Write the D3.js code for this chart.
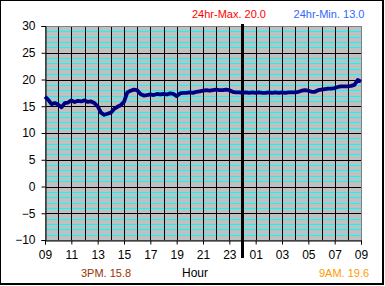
<!DOCTYPE html>
<html>
<head>
<meta charset="utf-8">
<script src="https://cdn.jsdelivr.net/npm/d3@7"></script>
<style>
  body { margin: 0; background: #fff; }
  text { font-family: "Liberation Sans", Arial, sans-serif; }
</style>
</head>
<body>
<div id="chart"></div>
<script>
const WIDTH = 385, HEIGHT = 286;
const P = { left: 45, right: 361, top: 26, bottom: 240 };

// readings every 15 minutes, starting 09:00
const startHour = 9, stepHours = 0.25;
const temps = [
  16.8, 16.2, 15.4, 15.6,  15.3, 14.8, 15.6, 15.7,  16.1, 15.8, 16.0, 15.9,
  16.1, 15.8, 15.9, 15.6,  15.0, 13.8, 13.4, 13.6,  13.8, 14.5, 14.9, 15.2,
  15.8, 17.6, 17.9, 18.1,  18.0, 17.3, 17.0, 17.1,  17.2, 17.1, 17.3, 17.2,
  17.3, 17.2, 17.4, 17.3,  16.9, 17.4, 17.5, 17.5,  17.6, 17.5, 17.7, 17.8,
  17.9, 18.0, 17.9, 18.0,  18.1, 18.0, 18.0, 18.1,  18.0, 17.7, 17.6, 17.6,
  17.5, 17.6, 17.5, 17.6,  17.5, 17.6, 17.5, 17.5,  17.6, 17.5, 17.6, 17.5,
  17.6, 17.5, 17.6, 17.6,  17.6, 17.7, 17.9, 18.0,  17.9, 17.7, 17.7, 18.0,
  18.1, 18.2, 18.3, 18.3,  18.4, 18.6, 18.7, 18.7,  18.7, 18.8, 19.0, 19.9,
  19.6
];
const yTicks = [-10, -5, 0, 5, 10, 15, 20, 25, 30];
const xTicks = [9, 11, 13, 15, 17, 19, 21, 23, 25, 27, 29, 31, 33];
const midnight = 24;
const topNotes = [
  { text: "24hr-Max. 20.0", x: 229, color: "#ff0000" },
  { text: "24hr-Min. 13.0", x: 329, color: "#3366ff" }
];
const bottomNotes = [
  { text: "3PM. 15.8", x: 106, color: "#993300" },
  { text: "9AM. 19.6", x: 344, color: "#ff9900" }
];

const svg = d3.select("#chart").append("svg")
  .attr("width", WIDTH).attr("height", HEIGHT);

// frame
svg.append("rect").attr("width", 384).attr("height", 285).attr("fill", "#000");
svg.append("rect").attr("x", 1).attr("y", 1).attr("width", 381).attr("height", 282).attr("fill", "#fff");

const x = d3.scaleLinear().domain([9, 33]).range([P.left, P.right]);
const y = d3.scaleLinear().domain([-10, 30]).range([P.bottom, P.top]);
const crisp = v => Math.round(v) + 0.5;

svg.append("rect")
  .attr("x", P.left).attr("y", P.top)
  .attr("width", P.right - P.left).attr("height", P.bottom - P.top)
  .attr("fill", "#c0c0c0");

// minor horizontal (cyan) and major (black)
const minorY = d3.range(-9, 30).filter(v => v % 5 !== 0);
svg.append("g").selectAll("line").data(minorY).join("line")
  .attr("x1", P.left).attr("x2", P.right)
  .attr("y1", d => crisp(y(d))).attr("y2", d => crisp(y(d)))
  .attr("stroke", "#00ffff").attr("stroke-width", 1);
svg.append("g").selectAll("line").data(yTicks.filter(v => v > -10 && v < 30)).join("line")
  .attr("x1", P.left).attr("x2", P.right)
  .attr("y1", d => crisp(y(d))).attr("y2", d => crisp(y(d)))
  .attr("stroke", "#000").attr("stroke-width", 1);
svg.append("g").selectAll("line").data(d3.range(10, 33)).join("line")
  .attr("x1", d => crisp(x(d))).attr("x2", d => crisp(x(d)))
  .attr("y1", P.top).attr("y2", P.bottom)
  .attr("stroke", "#000").attr("stroke-width", 1);

// plot border
svg.append("rect")
  .attr("x", P.left + 0.5).attr("y", P.top + 0.5)
  .attr("width", P.right - P.left).attr("height", P.bottom - P.top)
  .attr("fill", "none").attr("stroke", "#808080");

// axes
const yAxis = svg.append("g").attr("transform", `translate(${P.left + 0.5},0)`)
  .call(d3.axisLeft(y).tickValues(yTicks).tickSize(4).tickPadding(6));
const xAxis = svg.append("g").attr("transform", `translate(0,${P.bottom + 0.5})`)
  .call(d3.axisBottom(x).tickValues(xTicks).tickSize(4).tickPadding(6)
    .tickFormat(h => String(h % 24).padStart(2, "0")));
[yAxis, xAxis].forEach(a => {
  a.select(".domain").attr("stroke", "#000");
  a.selectAll(".tick line").attr("stroke", "#000");
  a.selectAll("text").attr("fill", "#000").attr("font-size", 12)
    .attr("font-family", "Liberation Sans, Arial, sans-serif");
});

// midnight marker
svg.append("line")
  .attr("x1", x(midnight)).attr("x2", x(midnight))
  .attr("y1", P.top - 2).attr("y2", 258)
  .attr("stroke", "#000").attr("stroke-width", 3);

// temperature trace
const line = d3.line()
  .x((d, i) => x(startHour + i * stepHours))
  .y(d => y(d));
svg.append("path").datum(temps)
  .attr("fill", "none").attr("stroke", "#000080")
  .attr("stroke-width", 3.8).attr("stroke-linejoin", "round")
  .attr("d", line);

// notes
svg.selectAll(".top-note").data(topNotes).join("text")
  .attr("class", "top-note")
  .attr("x", d => d.x).attr("y", 18).attr("text-anchor", "middle")
  .attr("font-size", 11).attr("fill", d => d.color).text(d => d.text);
svg.selectAll(".bot-note").data(bottomNotes).join("text")
  .attr("class", "bot-note")
  .attr("x", d => d.x).attr("y", 277).attr("text-anchor", "middle")
  .attr("font-size", 11).attr("fill", d => d.color).text(d => d.text);
svg.append("text").attr("x", 195).attr("y", 277).attr("text-anchor", "middle")
  .attr("font-size", 12).attr("fill", "#000").text("Hour");
</script>
</body>
</html>
